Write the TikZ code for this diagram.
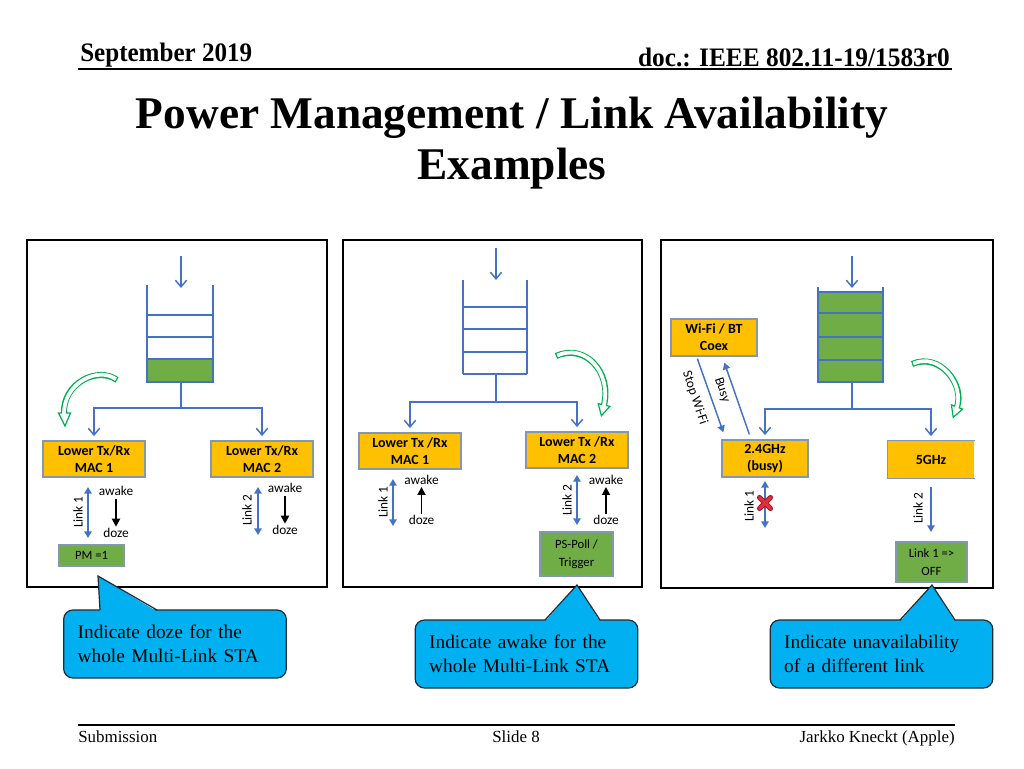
\documentclass[tikz,border=0pt]{standalone}
\usepackage{fontspec}
\setmainfont{Liberation Serif}
\newfontfamily\calibri{Carlito}
\usetikzlibrary{arrows.meta,calc}
\definecolor{qblue}{HTML}{4472C4}
\definecolor{macorange}{HTML}{FFC000}
\definecolor{gfill}{HTML}{70AD47}
\definecolor{boxgrey}{HTML}{8497B0}
\definecolor{cfill}{HTML}{00B0F0}
\definecolor{cedge}{HTML}{1F2A36}
\definecolor{hgreen}{HTML}{00B050}
\definecolor{xred}{HTML}{E0303C}
\definecolor{xdark}{HTML}{A01828}
\begin{document}
\begin{tikzpicture}[x=0.75pt,y=-0.75pt,
  qline/.style={draw=qblue, line width=1.1pt},
  vin/.style={qline, -{Straight Barb[length=5pt,width=8.5pt]}},
  lnk/.style={draw=qblue, line width=1.3pt, {Triangle[length=5pt,width=5.5pt]}-{Triangle[length=5pt,width=5.5pt]}},
  lnkone/.style={draw=qblue, line width=1.3pt, -{Triangle[length=5pt,width=5.5pt]}},
  blk/.style={draw=black, line width=1.3pt, -{Triangle[length=6pt,width=6pt]}},
  macbox/.style={fill=macorange, draw=boxgrey, line width=1pt, inner sep=0pt, align=center, font=\calibri\bfseries\fontsize{10.5}{12.8}\selectfont, minimum width=76.5pt, minimum height=27pt},
  gbox/.style={fill=gfill, draw=boxgrey, line width=1pt, inner sep=0pt, align=center, font=\calibri\fontsize{9.5}{13.5}\selectfont},
  lbl/.style={font=\calibri\fontsize{10}{12}\selectfont, inner sep=0pt},
  panel/.style={draw=black, line width=1.6pt},
  callout/.style={fill=cfill, draw=cedge, line width=0.9pt, rounded corners=7pt, inner xsep=10.5pt, inner ysep=0pt, text width=146pt, align=left, minimum height=51pt, font=\fontsize{14.5}{18}\selectfont},
  ptr/.style={fill=cfill},
  ptredge/.style={draw=cedge, line width=0.9pt, line join=miter},
  hout/.style={draw=hgreen, line width=4.6pt},
  hin/.style={draw=white, line width=2.8pt},
  hhead/.style={fill=white, draw=hgreen, line width=0.9pt, line join=miter},
  xmark/.style={line width=3.8pt, line cap=round, draw=xdark},
  xmarkin/.style={line width=2.4pt, line cap=round, draw=xred}
]
\useasboundingbox (0,0) rectangle (1024,768);
\fill[white] (0,0) rectangle (1024,768);

% header
\node[anchor=base west, inner sep=0pt, font=\bfseries\fontsize{20}{24}\selectfont, xscale=0.94] (date) at (80,61) {September 2019};
\node[anchor=base east, inner sep=0pt, font=\bfseries\fontsize{20}{24}\selectfont, xscale=0.95] (doc) at (950,66) {doc.: IEEE 802.11-19/1583r0};
\draw[line width=1pt] (78,69) -- (952,69);

% title
\node[anchor=base, inner sep=0pt, font=\bfseries\fontsize{34}{40}\selectfont] (t1) at (512,128) {Power Management / Link Availability};
\node[anchor=base, inner sep=0pt, font=\bfseries\fontsize{34}{40}\selectfont] (t2) at (512,179) {Examples};

% footer
\draw[line width=1pt] (78,725) -- (955,725);
\node[anchor=base west, inner sep=0pt, font=\fontsize{12.7}{15}\selectfont] (f1) at (78,742) {Submission};
\node[anchor=base, inner sep=0pt, font=\fontsize{12.7}{15}\selectfont] (f2) at (516,742) {Slide 8};
\node[anchor=base east, inner sep=0pt, font=\fontsize{12.7}{15}\selectfont] (f3) at (955,742) {Jarkko Kneckt (Apple)};

% ================= panel 1
\draw[panel] (27,240) rectangle (327,587);
\coordinate (p1in) at (181,256);
\coordinate (p1q) at (181,288);
\draw[vin] (p1in) -- (p1q);
\draw[qline] (147,285) -- (147,382) (213,285) -- (213,382) (147,315) -- (213,315) (147,337) -- (213,337);
\filldraw[fill=gfill, draw=qblue, line width=1.1pt] (147,359) rectangle (213,382);
\coordinate (p1qb) at (181,382);
\coordinate (p1s) at (181,408);
\node[macbox] (p1m1) at (94,459) {Lower Tx/Rx\\MAC 1};
\node[macbox] (p1m2) at (262,459) {Lower Tx/Rx\\MAC 2};
\draw[qline] (p1qb) -- (p1s);
\draw[vin, shorten >=3.2pt] (p1s) -| (p1m1.north);
\draw[vin, shorten >=3.2pt] (p1s) -| (p1m2.north);
\coordinate (p1l1a) at (88,487);
\coordinate (p1l1b) at (88,538);
\draw[lnk] (p1l1a) -- (p1l1b);
\node[lbl, rotate=90] (p1l1t) at (78,512) {Link 1};
\node[lbl] (p1aw1) at (116,491) {awake};
\node[lbl] (p1dz1) at (116,533) {doze};
\draw[blk, shorten <=2.5pt, shorten >=1pt] (p1aw1.south) -- (p1dz1.north);
\coordinate (p1l2a) at (258,487);
\coordinate (p1l2b) at (258,535);
\draw[lnk] (p1l2a) -- (p1l2b);
\node[lbl, rotate=90] (p1l2t) at (247,510) {Link 2};
\node[lbl] (p1aw2) at (285,488) {awake};
\node[lbl] (p1dz2) at (285,530) {doze};
\draw[blk, shorten <=2.5pt, shorten >=1pt] (p1aw2.south) -- (p1dz2.north);
\node[gbox, minimum width=48.75pt, minimum height=15.75pt] (pm) at (91.5,555.5) {PM =1};
% hollow green arrow
\draw[hout] (117,380) .. controls (98,366) and (63,383) .. (64,413);
\filldraw[hhead] (58.5,413) -- (65,426) -- (70.5,413) -- cycle;
\draw[hin, shorten <=1pt, shorten >=-1.2pt] (117,380) .. controls (98,366) and (63,383) .. (64,413);

% ================= panel 2
\draw[panel] (343,240) rectangle (642,587);
\coordinate (p2in) at (496,248);
\coordinate (p2q) at (496,280);
\draw[vin] (p2in) -- (p2q);
\draw[qline] (463,280) -- (463,374) (527,280) -- (527,374) (463,307) -- (527,307) (463,329) -- (527,329) (463,352) -- (527,352) (463,374) -- (527,374);
\coordinate (p2qb) at (496,374);
\coordinate (p2s) at (496,402);
\node[macbox] (p2m1) at (410,451) {Lower Tx /Rx\\MAC 1};
\node[macbox] (p2m2) at (577,450) {Lower Tx /Rx\\MAC 2};
\draw[qline] (p2qb) -- (p2s);
\draw[vin, shorten >=3.2pt] (p2s) -| (p2m1.north);
\draw[vin, shorten >=3.2pt] (p2s) -| (p2m2.north);
\coordinate (p2l1a) at (393,479);
\coordinate (p2l1b) at (393,526);
\draw[lnk] (p2l1a) -- (p2l1b);
\node[lbl, rotate=90] (p2l1t) at (383,502) {Link 1};
\node[lbl] (p2aw1) at (421.5,480) {awake};
\node[lbl] (p2dz1) at (421.5,520) {doze};
\draw[blk, shorten <=1pt, shorten >=1.5pt] (p2dz1.north) -- (p2aw1.south);
\coordinate (p2l2a) at (577,475);
\coordinate (p2l2b) at (577,525);
\draw[lnk] (p2l2a) -- (p2l2b);
\node[lbl, rotate=90] (p2l2t) at (567,500) {Link 2};
\node[lbl] (p2aw2) at (606,480) {awake};
\node[lbl] (p2dz2) at (606,520) {doze};
\draw[blk, shorten <=1pt, shorten >=1.5pt] (p2dz2.north) -- (p2aw2.south);
\node[gbox, minimum width=54.75pt, minimum height=33pt] (pspoll) at (576.5,554) {PS-Poll /\\Trigger};
% hollow green arrow
\draw[hout] (556,356) .. controls (585,343) and (612,372) .. (604,405);
\filldraw[hhead] (598.2,403.6) -- (601.4,415.7) -- (609.8,406.4) -- cycle;
\draw[hin, shorten <=1pt, shorten >=-1.2pt] (556,356) .. controls (585,343) and (612,372) .. (604,405);

% ================= panel 3
\draw[panel] (661,240) rectangle (993,588);
\coordinate (p3in) at (852,256);
\coordinate (p3q) at (852,288);
\filldraw[fill=gfill, draw=qblue, line width=1.1pt] (818,292) rectangle (883,382);
\draw[qline] (818,287) -- (818,382) (883,287) -- (883,382) (818,313) -- (883,313) (818,337) -- (883,337) (818,360) -- (883,360);
\draw[vin] (p3in) -- (p3q);
\coordinate (p3qb) at (852,382);
\coordinate (p3s) at (852,409);
\node[macbox, minimum width=64.5pt, minimum height=27.75pt] (g24) at (765,458.5) {2.4GHz\\(busy)};
\node[macbox, draw=none, minimum width=64.5pt, minimum height=27.75pt] (g5) at (931,459.5) {5GHz};
\draw[draw=boxgrey, line width=1pt] (g5.north east) -- (g5.north west) -- (g5.south west) -- (g5.south east);
\node[macbox, minimum width=64.5pt, minimum height=27.75pt] (coex) at (714,337.5) {Wi-Fi / BT\\Coex};
\draw[qline] (p3qb) -- (p3s);
\draw[vin, shorten >=3.2pt] (p3s) -| (g24.north);
\draw[vin, shorten >=3.2pt] (p3s) -| (g5.north);
% coex arrows
\draw[lnkone, line width=1.1pt] ($(coex.south west)+(27,2)$) -- ($(g24.north west)+(2,-7)$);
\draw[lnkone, line width=1.1pt] ($(g24.north west)+(28,-5)$) -- ($(coex.south west)+(54,6)$);
\node[lbl, rotate=-71.6] (stopwifi) at (695,398) {Stop Wi-Fi};
\node[lbl, rotate=-71.6] (busy) at (722,390) {Busy};
% links
\coordinate (p3l1a) at (765,481);
\coordinate (p3l1b) at (765,528);
\draw[lnk] (p3l1a) -- (p3l1b);
\node[lbl, rotate=90] (p3l1t) at (749,506) {Link 1};
\draw[xmark] (759.5,497.5) -- (770.5,508.5) (759.5,508.5) -- (770.5,497.5);
\draw[xmarkin] (759.5,497.5) -- (770.5,508.5) (759.5,508.5) -- (770.5,497.5);
\coordinate (p3l2a) at (931,487);
\coordinate (p3l2b) at (931,532);
\draw[lnkone] (p3l2a) -- (p3l2b);
\node[lbl, rotate=90] (p3l2t) at (918,508) {Link 2};
\node[gbox, minimum width=53.25pt, minimum height=30pt] (off) at (931.5,562) {Link 1 =>\\OFF};
% hollow green arrow
\draw[hout] (912,364) .. controls (940,352) and (965,385) .. (957,407);
\filldraw[hhead] (951.4,404.9) -- (953.2,417.3) -- (962.6,409.1) -- cycle;
\draw[hin, shorten <=1pt, shorten >=-1.2pt] (912,364) .. controls (940,352) and (965,385) .. (957,407);

% ================= callouts
\node[callout] (c1) at (175,644) {Indicate doze for the\\whole Multi-Link STA};
\coordinate (c1tip) at (98,576);
\fill[ptr] (100,611.5) -- (c1tip) -- (157,611.5) -- cycle;
\draw[ptredge] (100,610) -- (c1tip) -- (157,610);

\node[callout] (c2) at (526.5,654) {Indicate awake for the\\whole Multi-Link STA};
\coordinate (c2tip) at (577,585);
\fill[ptr] (545,621.5) -- (c2tip) -- (600,621.5) -- cycle;
\draw[ptredge] (545,620) -- (c2tip) -- (600,620);

\node[callout] (c3) at (881.5,654) {Indicate unavailability\\of a different link};
\coordinate (c3tip) at (932,585);
\fill[ptr] (900,621.5) -- (c3tip) -- (955,621.5) -- cycle;
\draw[ptredge] (900,620) -- (c3tip) -- (955,620);
\end{tikzpicture}
\end{document}
